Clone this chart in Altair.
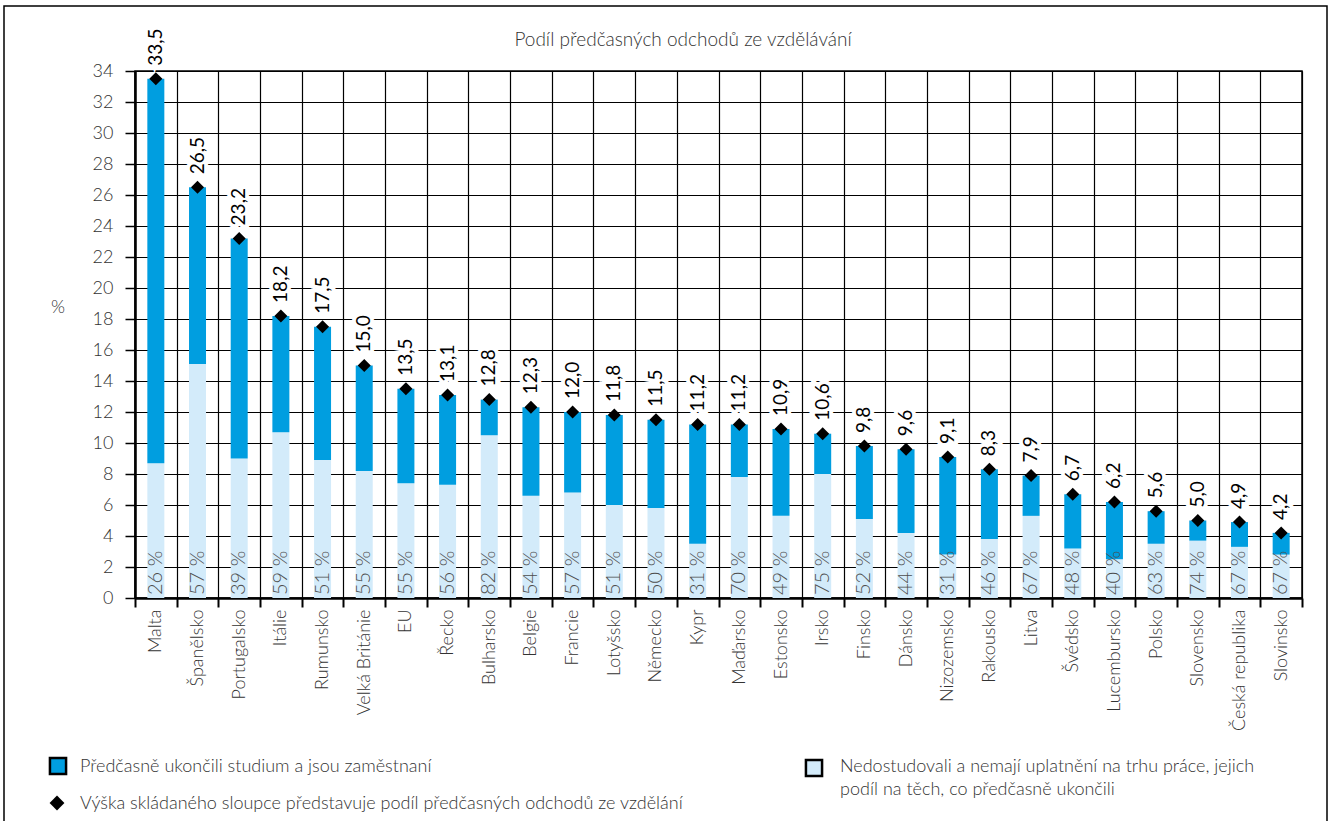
import altair as alt
import pandas as pd

countries = ["Malta", "Španělsko", "Portugalsko", "Itálie", "Rumunsko", "Velká Británie", "EU",
             "Řecko", "Bulharsko", "Belgie", "Francie", "Lotyšsko", "Německo", "Kypr", "Maďarsko",
             "Estonsko", "Irsko", "Finsko", "Dánsko", "Nizozemsko", "Rakousko", "Litva", "Švédsko",
             "Lucembursko", "Polsko", "Slovensko", "Česká republika", "Slovinsko"]
totals = [33.5, 26.5, 23.2, 18.2, 17.5, 15.0, 13.5, 13.1, 12.8, 12.3, 12.0, 11.8, 11.5, 11.2, 11.2,
          10.9, 10.6, 9.8, 9.6, 9.1, 8.3, 7.9, 6.7, 6.2, 5.6, 5.0, 4.9, 4.2]
unemployed = [8.7, 15.1, 9.0, 10.7, 8.9, 8.2, 7.4, 7.3, 10.5, 6.6, 6.8, 6.0, 5.8, 3.5, 7.8,
              5.3, 8.0, 5.1, 4.2, 2.8, 3.8, 5.3, 3.2, 2.5, 3.5, 3.7, 3.3, 2.8]
pct_labels = ["26 %", "57 %", "39 %", "59 %", "51 %", "55 %", "55 %", "56 %", "82 %", "54 %",
              "57 %", "51 %", "50 %", "31 %", "70 %", "49 %", "75 %", "52 %", "44 %", "31 %",
              "46 %", "67 %", "48 %", "40 %", "63 %", "74 %", "67 %", "67 %"]
total_labels = ["33,5", "26,5", "23,2", "18,2", "17,5", "15,0", "13,5", "13,1", "12,8", "12,3",
                "12,0", "11,8", "11,5", "11,2", "11,2", "10,9", "10,6", "9,8", "9,6", "9,1",
                "8,3", "7,9", "6,7", "6,2", "5,6", "5,0", "4,9", "4,2"]
y_ticks = list(range(0, 35, 2))

title_text = "Podíl předčasných odchodů ze vzdělávání"
y_title = "%"
legend_employed = "Předčasně ukončili studium a jsou zaměstnaní"
legend_diamond = "Výška skládaného sloupce představuje podíl předčasných odchodů ze vzdělání"
legend_light_1 = "Nedostudovali a nemají uplatnění na trhu práce, jejich"
legend_light_2 = "podíl na těch, co předčasně ukončili"

BLUE = "#009EE0"
LIGHT = "#D3EBFA"
TXT = "#333333"
FONT = "Lato"
FW = 300

df = pd.DataFrame({
    "country": countries,
    "total": totals,
    "light": unemployed,
    "pct": pct_labels,
    "tl": total_labels,
    "zero": [0.0] * len(countries),
})

W, H = 1167, 527
L, T = 135, 71

x_axis = alt.Axis(tickBand="extent", labelAngle=270, labelAlign="right",
                  labelBaseline="middle", labelFontSize=18, labelColor=TXT,
                  labelFont=FONT, labelFontWeight=FW, labelPadding=2, tickSize=9, tickWidth=2,
                  tickColor="black", domainColor="black", domainWidth=2.5,
                  grid=True, gridColor="black", gridWidth=1.2, gridOpacity=1)
y_axis = alt.Axis(values=y_ticks, title=None,
                  labelFontSize=18, labelColor=TXT, labelFont=FONT, labelFontWeight=FW,
                  labelPadding=12,
                  tickSize=10, tickWidth=1.5, tickColor="black",
                  domainColor="black", domainWidth=2.5,
                  grid=True, gridColor="black", gridWidth=1.2, gridOpacity=1)
y_scale = alt.Scale(domain=[0, 34], nice=False, zero=True)


def X():
    return alt.X("country:N", sort=countries, title=None,
                 scale=alt.Scale(paddingInner=0, paddingOuter=0), axis=x_axis)


def Y(field):
    return alt.Y(f"{field}:Q", title=None, scale=y_scale, axis=y_axis)


base = alt.Chart(df)

light_bars = base.mark_bar(size=17, color=LIGHT).encode(
    x=X(), y=Y("zero"), y2="light:Q")

blue_bars = base.mark_bar(size=17, color=BLUE).encode(
    x=X(), y=Y("light"), y2="total:Q")

pct_text = base.mark_text(angle=270, align="left", baseline="middle", dx=3, fontSize=20,
                          color="#4d4d4d", font=FONT, fontWeight=FW).encode(
    x=X(), y=Y("zero"), text="pct:N")

total_halo = base.mark_text(angle=270, align="left", baseline="middle", dx=13, fontSize=19,
                            color="white", stroke="white", strokeWidth=8,
                            font=FONT).encode(
    x=X(), y=Y("total"), text="tl:N")

total_text = base.mark_text(angle=270, align="left", baseline="middle", dx=13, fontSize=19,
                            color="black", font=FONT).encode(
    x=X(), y=Y("total"), text="tl:N")

diamonds = base.mark_point(shape="diamond", filled=True, color="black", size=170,
                           opacity=1).encode(
    x=X(), y=Y("total"))

one = alt.Data(values=[{"a": 1}])

frame = alt.Chart(one).mark_rect(fill=None, stroke="black", strokeWidth=1.5).encode(
    x=alt.value(4 - L), x2=alt.value(1327 - L), y=alt.value(6 - T), y2=alt.value(840 - T))


def ltxt(s, x, y, size=18, align="left"):
    return alt.Chart(one).mark_text(fontSize=size, color=TXT, font=FONT, fontWeight=FW,
                                    align=align, baseline="middle").encode(
        x=alt.value(x - L), y=alt.value(y - T), text=alt.value(s))


title = ltxt(title_text, 683, 40, size=19, align="center")
ytitle = ltxt(y_title, 58, 308, size=18, align="center")

leg_blue = alt.Chart(one).mark_square(size=260, color=BLUE, stroke="black", strokeWidth=2.5,
                                      opacity=1).encode(
    x=alt.value(58 - L), y=alt.value(766 - T))
leg_light = alt.Chart(one).mark_square(size=260, color=LIGHT, stroke="black", strokeWidth=2.5,
                                       opacity=1).encode(
    x=alt.value(814 - L), y=alt.value(768 - T))
leg_diam = alt.Chart(one).mark_point(shape="diamond", filled=True, color="black", size=220,
                                     opacity=1).encode(
    x=alt.value(57 - L), y=alt.value(803 - T))

legend_texts = [
    ltxt(legend_employed, 80, 767),
    ltxt(legend_diamond, 80, 804),
    ltxt(legend_light_1, 840, 767),
    ltxt(legend_light_2, 840, 790),
]

chart = alt.layer(
    light_bars, blue_bars, pct_text, total_halo, total_text, diamonds,
    frame, title, ytitle, leg_blue, leg_light, leg_diam, *legend_texts
).properties(
    width=W, height=H,
    background="white",
    autosize=alt.AutoSizeParams(type="none"),
    padding={"left": L, "top": T, "right": 1328 - L - W, "bottom": 821 - T - H},
).configure_view(stroke="black", strokeWidth=1.5)

chart.save("out.html", embed_options={"renderer": "svg", "actions": False})
